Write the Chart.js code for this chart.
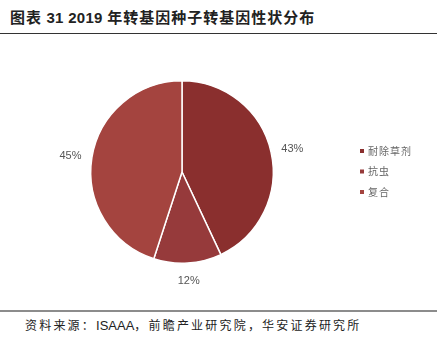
<!DOCTYPE html>
<html>
<head>
<meta charset="utf-8">
<script src="https://cdn.jsdelivr.net/npm/chart.js@4.4.1/dist/chart.umd.min.js"></script>
<style>
  body { margin: 0; width: 442px; height: 348px; background: #fff; position: relative; overflow: hidden; font-family: "Noto Sans CJK SC", sans-serif; }
  #title { position: absolute; left: 10px; top: 6px; font-size: 15px; font-weight: bold; color: #222; letter-spacing: 1px; }
  #title .num { font-family: "Liberation Sans", Arial, sans-serif; letter-spacing: 0.3px; }
  #topline { position: absolute; left: 0; top: 33px; width: 437px; height: 1px; background: #333; }
  #botline { position: absolute; left: 0; top: 310px; width: 437px; height: 2px; background: #8c8c8c; }
  #source { position: absolute; left: 25px; top: 316px; font-size: 12px; color: #222; letter-spacing: 2.2px; }
  #source .lat { font-family: "Liberation Sans", Arial, sans-serif; font-size: 13px; letter-spacing: 0; }
  #wrap { position: absolute; left: 0; top: 40px; width: 442px; height: 265px; }
</style>
</head>
<body>
<div id="title">图表 <span class="num">31 2019</span> 年转基因种子转基因性状分布</div>
<div id="topline"></div>
<div id="wrap"><canvas id="c"></canvas></div>
<div id="botline"></div>
<div id="source">资料来源：<span class="lat">ISAAA</span>，前瞻产业研究院，华安证券研究所</div>
<script>
// 性状分类和占比
const traitLabels = ['耐除草剂', '抗虫', '复合'];
const traitShares = [43, 12, 45];
const sliceColors = ['#8a2f2e', '#963a3b', '#a4443f'];

// 扇区外的百分比标签 + 右侧图例
const outsideLabels = {
  id: 'outsideLabels',
  afterDraw(chart) {
    const ctx = chart.ctx;
    const meta = chart.getDatasetMeta(0);
    ctx.save();
    ctx.font = '11px "Liberation Sans", Arial, sans-serif';
    ctx.fillStyle = '#555';
    ctx.textAlign = 'center';
    ctx.textBaseline = 'middle';
    meta.data.forEach((arc, i) => {
      const p = arc.getProps(['x', 'y', 'startAngle', 'endAngle', 'outerRadius'], true);
      const mid = (p.startAngle + p.endAngle) / 2;
      const txt = traitShares[i] + '%';
      const w = ctx.measureText(txt).width;
      const ext = Math.abs(Math.cos(mid)) * w / 2 + Math.abs(Math.sin(mid)) * 5;
      const r = p.outerRadius + 10 + ext;
      ctx.fillText(txt, p.x + Math.cos(mid) * r, p.y + Math.sin(mid) * r + 2);
    });

    // 图例
    ctx.font = '10px "Noto Sans CJK SC", sans-serif';
    ctx.textAlign = 'left';
    traitLabels.forEach((lab, i) => {
      const y = 111 + i * 20.5;
      ctx.fillStyle = sliceColors[i];
      ctx.fillRect(360, y - 2, 4, 4);
      ctx.fillStyle = '#666';
      let x = 368;
      for (const ch of lab) {
        ctx.fillText(ch, x, y);
        x += 11;
      }
    });
    ctx.restore();
  }
};

new Chart(document.getElementById('c'), {
  type: 'pie',
  data: {
    labels: traitLabels,
    datasets: [{
      data: traitShares,
      backgroundColor: sliceColors,
      borderColor: '#ffffff',
      borderWidth: 1.5
    }]
  },
  options: {
    responsive: true,
    maintainAspectRatio: false,
    animation: false,
    layout: { padding: { left: 90, right: 168, top: 40, bottom: 41 } },
    plugins: {
      legend: { display: false },
      tooltip: { enabled: false }
    }
  },
  plugins: [outsideLabels]
});
</script>
</body>
</html>
